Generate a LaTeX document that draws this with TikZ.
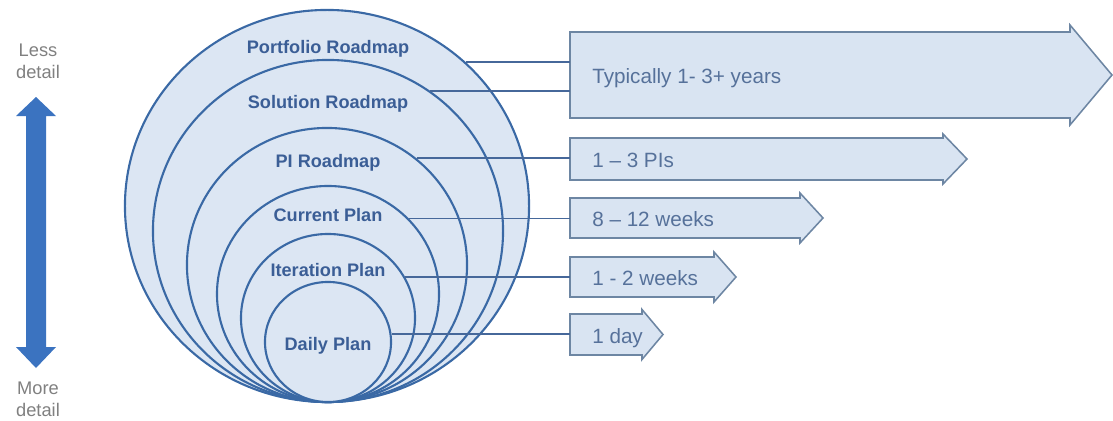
\documentclass[tikz,border=0pt]{standalone}
\usepackage{fontspec}
\setmainfont{Liberation Sans}
\usetikzlibrary{shapes.geometric}

\definecolor{ringline}{HTML}{3A69A5}
\definecolor{ringfill}{HTML}{DCE6F3}
\definecolor{ringtext}{HTML}{3B5E96}
\definecolor{barline}{HTML}{6D86A3}
\definecolor{barfill}{HTML}{D9E4F2}
\definecolor{bartext}{HTML}{56719A}
\definecolor{linkline}{HTML}{46689A}
\definecolor{scalearrow}{HTML}{3B73C0}
\definecolor{scaletext}{HTML}{808080}

\begin{document}
\begin{tikzpicture}[
		x=0.025cm, y=-0.025cm,
		ring/.style 2 args={ellipse, draw=ringline, fill=ringfill, line width=1.5pt,
			inner sep=0pt, minimum width=#1*0.05cm, minimum height=#2*0.05cm},
		ringlabel/.style={font=\bfseries\fontsize{12.9}{14}\selectfont, text=ringtext,
			text height=9.2pt, text depth=0pt, inner sep=0pt},
		bar/.style={draw=barline, fill=barfill, line width=1.1pt, line join=miter},
		span/.style={anchor=west, font=\fontsize{14.7}{16}\selectfont, text=bartext,
			text height=10.5pt, text depth=0pt, inner ysep=0pt, inner xsep=0.55cm},
		link/.style={draw=linkline, line width=1.3pt},
		scalelabel/.style={align=center, font=\fontsize{13}{15.5}\selectfont, text=scaletext},
	]
	\useasboundingbox (0,0) rectangle (1113,421);

	% nested planning horizons, all touching at the bottom
	\node[ring={202}{196}] (e1) at (327,206) {};
	\node[ring={175}{171}] (e2) at (328,231) {};
	\node[ring={140}{137}] (e3) at (327,265) {};
	\node[ring={111}{108}] (e4) at (328,294) {};
	\node[ring={87}{84}]   (e5) at (328,318) {};
	\node[ring={63}{60}]   (e6) at (328,342) {};

	\node[ringlabel] (l1) at (328,47)  {Portfolio Roadmap};
	\node[ringlabel] (l2) at (328,102) {Solution Roadmap};
	\node[ringlabel] (l3) at (328,161) {PI Roadmap};
	\node[ringlabel] (l4) at (328,215) {Current Plan};
	\node[ringlabel] (l5) at (328,270) {Iteration Plan};
	\node[ringlabel] (l6) at (328,344) {Daily Plan};

	% time span arrows: name / mid / half shaft / head x / half head / tip / text
	\foreach \name/\ymid/\half/\hx/\hhalf/\tip/\txt in {
			yrs/75/43/1070/50/1112/{Typically 1- 3+ years},
			pis/159/21/943/25/967/{1 – 3 PIs},
			wks/218/20/800/25/823/{8 – 12 weeks},
			itr/277/20/714/25/736/{1 - 2 weeks},
			day/334.5/20.5/642/25/663/{1 day}}{
		\draw[bar] (570,\ymid-\half) -- (\hx,\ymid-\half) -- (\hx,\ymid-\hhalf)
			-- (\tip,\ymid) -- (\hx,\ymid+\hhalf) -- (\hx,\ymid+\half)
			-- (570,\ymid+\half) -- cycle;
		\node[span] (\name) at (570,\ymid+1.5) {\txt};
	}

	\draw[link] (e1.46.4) -- (e1.46.4 -| yrs.west);
	\draw[link] (e2.54.3) -- (e2.54.3 -| yrs.west);
	\draw[link] (e3.50.1) -- (e3.50.1 -| pis.west);
	\draw[link] (e4.43.9) -- (e4.43.9 -| wks.west);
	\draw[link] (e5.28.4) -- (e5.28.4 -| itr.west);
	\draw[link] (e6.7.3)  -- (e6.7.3 -| day.west);

	% detail scale on the left
	\fill[scalearrow] (36,97) -- (56,116) -- (46,116) -- (46,347) -- (56,347)
		-- (36,368) -- (16,347) -- (26,347) -- (26,116) -- (16,116) -- cycle;
	\node[scalelabel] (less) at (38,61)  {Less\\detail};
	\node[scalelabel] (more) at (38,399) {More\\detail};
\end{tikzpicture}
\end{document}
